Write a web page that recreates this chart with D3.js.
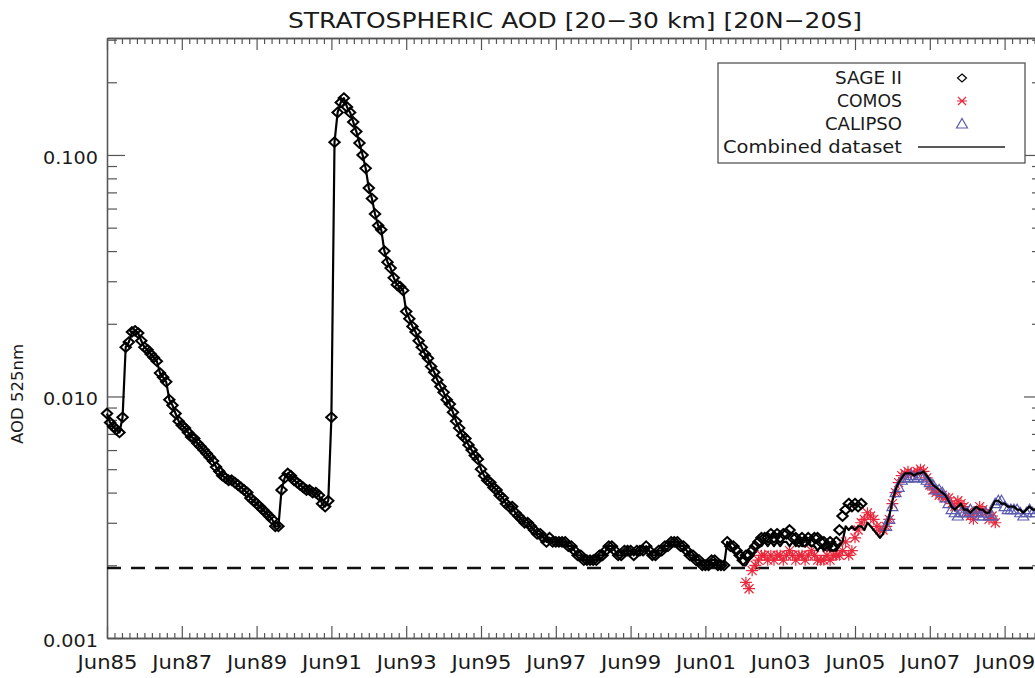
<!DOCTYPE html>
<html>
<head>
<meta charset="utf-8">
<script src="https://cdn.jsdelivr.net/npm/d3@7"></script>
<style>
  body { margin: 0; background: #fff; }
  text { font-family: "DejaVu Sans", sans-serif; fill: #1a1a1a; }
</style>
</head>
<body>
<div id="chart"></div>
<script>
// monthly series, first value = Jun 1985 for SAGE II
const sageStart = 1985 + 5 / 12;
const sage = [
  0.0085, 0.0078, 0.0075, 0.0073, 0.0071, 0.0082, 0.0160, 0.0168, 0.0185, 0.0187, 0.0183, 0.0170,
  0.0160, 0.0156, 0.0150, 0.0145, 0.0140, 0.0125, 0.0120, 0.0115, 0.0097, 0.0092, 0.0085, 0.0079,
  0.0076, 0.0074, 0.0071, 0.0068, 0.0067, 0.0064, 0.0062, 0.0060, 0.0058, 0.0056, 0.0054, 0.0051,
  0.0049, 0.0047, 0.0046, 0.0045, 0.0045, 0.0044, 0.0043, 0.0042, 0.0041, 0.0040, 0.0038, 0.0037,
  0.0036, 0.0035, 0.0034, 0.0033, 0.0032, 0.0031, 0.0029, 0.0029, 0.0041, 0.0046, 0.0048, 0.0047,
  0.0045, 0.0044, 0.0043, 0.0042, 0.0041, 0.0041, 0.0040, 0.0040, 0.0039, 0.0036, 0.0035, 0.0037,
  0.0082, 0.113, 0.150, 0.165, 0.172, 0.158, 0.150, 0.137, 0.125, 0.112, 0.100, 0.088,
  0.073, 0.066, 0.057, 0.051, 0.049, 0.040, 0.036, 0.034, 0.031, 0.029, 0.0285, 0.0275,
  0.0225, 0.021, 0.0195, 0.0185, 0.017, 0.016, 0.0150, 0.0144, 0.0133, 0.0126, 0.0117, 0.0110,
  0.0104, 0.0097, 0.0093, 0.0086, 0.0079, 0.0074, 0.0069, 0.0067, 0.0063, 0.0060, 0.0057, 0.0055,
  0.0050, 0.0047, 0.0045, 0.0044, 0.0042, 0.0041, 0.0039, 0.0038, 0.0036, 0.0035, 0.0035, 0.0033,
  0.0032, 0.0031, 0.0030, 0.0030, 0.0029, 0.0028, 0.0027, 0.0027, 0.0026, 0.0025, 0.0026, 0.0025,
  0.0025, 0.0025, 0.0025, 0.0025, 0.0024, 0.0024, 0.0023, 0.0022, 0.0022, 0.0021, 0.0021, 0.0021,
  0.0021, 0.0021, 0.0022, 0.0022, 0.0023, 0.0024, 0.0024, 0.0023, 0.0022, 0.0022, 0.0023, 0.0023,
  0.0023, 0.0022, 0.0023, 0.0023, 0.0023, 0.0024, 0.0023, 0.0022, 0.0022, 0.0023, 0.0023, 0.0024,
  0.0024, 0.0025, 0.0025, 0.0025, 0.0024, 0.0024, 0.0023, 0.0022, 0.0022, 0.0021, 0.0021, 0.0020,
  0.0020, 0.0020, 0.0021, 0.0021, 0.0020, 0.0020, 0.0020, 0.0025, 0.0024, 0.0024, 0.0023, 0.0022,
  0.0021, 0.0022, 0.0022, 0.0023, 0.0024, 0.0025, 0.0026, 0.0026, 0.0026, 0.0027, 0.0026, 0.0027,
  0.0026, 0.0027, 0.0027, 0.0028, 0.0026, 0.0026, 0.0025, 0.0026, 0.0025, 0.0026, 0.0025, 0.0026,
  0.0026, 0.0025, 0.0025, 0.0024, 0.0025, 0.0024, 0.0025, 0.0028, 0.0032, 0.0034, 0.0036, 0.0035,
  0.0036, 0.0035, 0.0036
];

// combined dataset = SAGE II up to Dec 2001, then this tail (from Jan 2002)
const combinedSplit = 199;
const combinedTail = [
  0.0025, 0.0024, 0.0023, 0.0022, 0.0021, 0.0020, 0.0020, 0.0021, 0.0022, 0.0023, 0.0024, 0.0024,
  0.0025, 0.0024, 0.0025, 0.0024, 0.0025, 0.0024, 0.0025, 0.0025, 0.0024, 0.0025, 0.0024, 0.0025,
  0.0024, 0.0024, 0.0025, 0.0024, 0.0024, 0.0023, 0.0024, 0.0023, 0.0024, 0.0023, 0.0023, 0.0023,
  0.0024, 0.0025, 0.0029, 0.0028, 0.0029, 0.0028, 0.0029, 0.0029, 0.0028, 0.0030, 0.0029, 0.0028,
  0.0027, 0.0026, 0.0027, 0.0029, 0.0032, 0.0037, 0.0041, 0.0044, 0.0046, 0.0048, 0.0048, 0.0048,
  0.0047, 0.0048, 0.0048, 0.0049, 0.0047, 0.0045, 0.0043, 0.0042, 0.0041, 0.0040, 0.0039, 0.0037,
  0.0035, 0.0034, 0.0035, 0.0036, 0.0034, 0.0034, 0.0033, 0.0034, 0.0035, 0.0034, 0.0034, 0.0033,
  0.0033, 0.0035, 0.0037, 0.0037, 0.0036, 0.0036, 0.0035, 0.0035, 0.0035, 0.0034, 0.0034, 0.0033,
  0.0034, 0.0035, 0.0034, 0.0034
];

// COMOS from Jul 2002
const comosOffset = 205;
const comos = [
  0.0017, 0.0016, 0.0019, 0.0020, 0.0021, 0.0022, 0.0022, 0.0021, 0.0022, 0.0021, 0.0022, 0.0022,
  0.0021, 0.0022, 0.0023, 0.0022, 0.0021, 0.0022, 0.0022, 0.0021, 0.0022, 0.0023, 0.0022, 0.0021,
  0.0021, 0.0021, 0.0022, 0.0021, 0.0022, 0.0022, 0.0022, 0.0023, 0.0025, 0.0022, 0.0023, 0.0026,
  0.0028, 0.0030, 0.0031, 0.0033, 0.0032, 0.0031, 0.0029, 0.0028, 0.0028, 0.0029, 0.0031, 0.0036,
  0.0040, 0.0044, 0.0047, 0.0048, 0.0049, 0.0048, 0.0048, 0.0049, 0.0050, 0.0049, 0.0046, 0.0043,
  0.0041, 0.0040, 0.0039, 0.0039, 0.0038, 0.0038, 0.0036, 0.0035, 0.0037, 0.0036, 0.0035, 0.0033,
  0.0032, 0.0031, 0.0033, 0.0035, 0.0034, 0.0033, 0.0031, 0.0032, 0.0030
];

// CALIPSO from Aug 2006
const calipsoOffset = 250;
const calipso = [
  0.0029, 0.0031, 0.0035, 0.0040, 0.0042, 0.0045, 0.0046, 0.0046, 0.0047, 0.0046, 0.0046, 0.0047,
  0.0046, 0.0045, 0.0044, 0.0043, 0.0041, 0.0041, 0.0040, 0.0038, 0.0036, 0.0034, 0.0033, 0.0032,
  0.0033, 0.0033, 0.0033, 0.0034, 0.0033, 0.0033, 0.0032, 0.0032, 0.0033, 0.0032, 0.0032, 0.0036,
  0.0037, 0.0037, 0.0035, 0.0034, 0.0034, 0.0034, 0.0034, 0.0033, 0.0032, 0.0033, 0.0034, 0.0033,
  0.0033
];

const xTickLabels = ["Jun85", "Jun87", "Jun89", "Jun91", "Jun93", "Jun95", "Jun97",
                     "Jun99", "Jun01", "Jun03", "Jun05", "Jun07", "Jun09"];
const yTickValues = [0.001, 0.01, 0.1];
const yTickLabels = ["0.001", "0.010", "0.100"];
const background = 0.00195;

const legendItems = [
  { name: "SAGE II", kind: "sage" },
  { name: "COMOS", kind: "comos" },
  { name: "CALIPSO", kind: "calipso" },
  { name: "Combined dataset", kind: "line" }
];

const W = 1035, H = 678;
const plotLeft = 107, plotRight = 1042, plotTop = 38, plotBottom = 638;

const x = d3.scaleLinear().domain([sageStart, sageStart + 25]).range([plotLeft, plotRight]);
const y = d3.scaleLog().domain([0.001, 0.305]).range([plotBottom, plotTop]);
const monthX = m => x(sageStart + m / 12);

const svg = d3.select("#chart").append("svg")
    .attr("width", W)
    .attr("height", H);

// ---- axes
const majorX = xTickLabels.map((d, i) => sageStart + 2 * i);
const minorX = d3.range(0, 126).map(i => sageStart + i * 0.2).filter(v => !majorX.some(m => Math.abs(m - v) < 1e-6));
const minorY = [];
[0.001, 0.01, 0.1].forEach(dec => d3.range(2, 10).forEach(k => {
  const v = dec * k;
  if (v < 0.305) minorY.push(v);
}));

const axisColor = "#555";

function styleAxis(g) {
  g.selectAll("path.domain").attr("stroke", axisColor).attr("stroke-width", 1.3);
  g.selectAll(".tick line").attr("stroke", axisColor).attr("stroke-width", 1.2);
}

svg.append("g").attr("transform", `translate(0,${plotBottom})`)
    .call(d3.axisBottom(x).tickValues(minorX).tickSize(-5).tickSizeOuter(0).tickFormat(""))
    .call(styleAxis);
const gx = svg.append("g").attr("transform", `translate(0,${plotBottom})`)
    .call(d3.axisBottom(x).tickValues(majorX).tickSize(-12).tickSizeOuter(0).tickPadding(18)
      .tickFormat((d, i) => xTickLabels[i]))
    .call(styleAxis);
gx.selectAll("text")
    .style("font-size", "19px")
    .attr("textLength", 60)
    .attr("lengthAdjust", "spacingAndGlyphs");

svg.append("g").attr("transform", `translate(0,${plotTop})`)
    .call(d3.axisTop(x).tickValues(minorX).tickSize(-6).tickSizeOuter(0).tickFormat(""))
    .call(styleAxis);
svg.append("g").attr("transform", `translate(0,${plotTop})`)
    .call(d3.axisTop(x).tickValues(majorX).tickSize(-12).tickSizeOuter(0).tickFormat(""))
    .call(styleAxis);

svg.append("g").attr("transform", `translate(${plotLeft},0)`)
    .call(d3.axisLeft(y).tickValues(minorY).tickSize(-10).tickSizeOuter(0).tickFormat(""))
    .call(styleAxis);
const gy = svg.append("g").attr("transform", `translate(${plotLeft},0)`)
    .call(d3.axisLeft(y).tickValues(yTickValues).tickSize(-18).tickSizeOuter(0).tickPadding(9)
      .tickFormat((d, i) => yTickLabels[i]))
    .call(styleAxis);
gy.selectAll("text")
    .style("font-size", "18px")
    .attr("dy", "0.45em")
    .attr("textLength", 55)
    .attr("lengthAdjust", "spacingAndGlyphs");

svg.append("g").attr("transform", `translate(${plotRight},0)`)
    .call(d3.axisRight(y).tickValues(minorY).tickSize(-10).tickSizeOuter(0).tickFormat(""))
    .call(styleAxis);
svg.append("g").attr("transform", `translate(${plotRight},0)`)
    .call(d3.axisRight(y).tickValues(yTickValues).tickSize(-18).tickSizeOuter(0).tickFormat(""))
    .call(styleAxis);

// ---- titles
svg.append("text")
    .attr("x", 575).attr("y", 28)
    .attr("text-anchor", "middle")
    .style("font-size", "22px")
    .attr("textLength", 574)
    .attr("lengthAdjust", "spacingAndGlyphs")
    .text("STRATOSPHERIC AOD [20\u221230 km] [20N\u221220S]");

svg.append("text")
    .attr("transform", "translate(23,394) rotate(-90)")
    .attr("text-anchor", "middle")
    .style("font-size", "15px")
    .attr("textLength", 100)
    .attr("lengthAdjust", "spacingAndGlyphs")
    .text("AOD 525nm");

// ---- background level
svg.append("line")
    .attr("x1", plotLeft).attr("x2", plotRight)
    .attr("y1", y(background)).attr("y2", y(background))
    .attr("stroke", "#111")
    .attr("stroke-width", 2.6)
    .attr("stroke-dasharray", "14,10");

// ---- markers
const diamond = "M0,-4.8L5.2,0L0,4.8L-5.2,0Z";
const star = "M-4.5,-4.5L4.5,4.5M-4.5,4.5L4.5,-4.5M-6,0L6,0M0,-5.5L0,5.5";
const tri = "M0,-5.5L5.5,4L-5.5,4Z";

const plot = svg.append("g");

plot.append("g").selectAll("path")
  .data(sage)
  .join("path")
    .attr("transform", (d, i) => `translate(${monthX(i)},${y(d)})`)
    .attr("d", diamond)
    .attr("fill", "none")
    .attr("stroke", "#000")
    .attr("stroke-width", 2);

plot.append("g").selectAll("path")
  .data(comos)
  .join("path")
    .attr("transform", (d, i) => `translate(${monthX(i + comosOffset)},${y(d)})`)
    .attr("d", star)
    .attr("fill", "none")
    .attr("stroke", "#e8283c")
    .attr("stroke-width", 1.2);

plot.append("g").selectAll("path")
  .data(calipso)
  .join("path")
    .attr("transform", (d, i) => `translate(${monthX(i + calipsoOffset)},${y(d)})`)
    .attr("d", tri)
    .attr("fill", "none")
    .attr("stroke", "#5b5bb0")
    .attr("stroke-width", 1.2);

const combined = sage.slice(0, combinedSplit).concat(combinedTail);
plot.append("path")
    .datum(combined)
    .attr("fill", "none")
    .attr("stroke", "#000")
    .attr("stroke-width", 2.2)
    .attr("stroke-linejoin", "round")
    .attr("d", d3.line().x((d, i) => monthX(i)).y(d => y(d)));

// ---- legend
const lg = svg.append("g");
lg.append("rect")
    .attr("x", 718).attr("y", 63)
    .attr("width", 307).attr("height", 100)
    .attr("fill", "#fff")
    .attr("stroke", "#555")
    .attr("stroke-width", 1.3);

const legendWidths = [67, 65, 77, 179];
legendItems.forEach((item, i) => {
  const cy = 78 + i * 23;
  lg.append("text")
      .attr("x", 902).attr("y", cy + 6)
      .attr("text-anchor", "end")
      .style("font-size", "17px")
      .attr("textLength", legendWidths[i])
      .attr("lengthAdjust", "spacingAndGlyphs")
      .text(item.name);
  if (item.kind === "line") {
    lg.append("line")
        .attr("x1", 918).attr("x2", 1005)
        .attr("y1", cy).attr("y2", cy)
        .attr("stroke", "#222").attr("stroke-width", 1.3);
  } else {
    const p = item.kind === "sage" ? "M0,-4L4.5,0L0,4L-4.5,0Z"
            : item.kind === "comos" ? "M-4,-4L4,4M-4,4L4,-4M-5,0L5,0" : tri;
    const c = item.kind === "sage" ? "#000" : item.kind === "comos" ? "#e8283c" : "#5b5bb0";
    lg.append("path")
        .attr("transform", `translate(962,${cy})`)
        .attr("d", p)
        .attr("fill", "none")
        .attr("stroke", c)
        .attr("stroke-width", 1.2);
  }
});
</script>
</body>
</html>
